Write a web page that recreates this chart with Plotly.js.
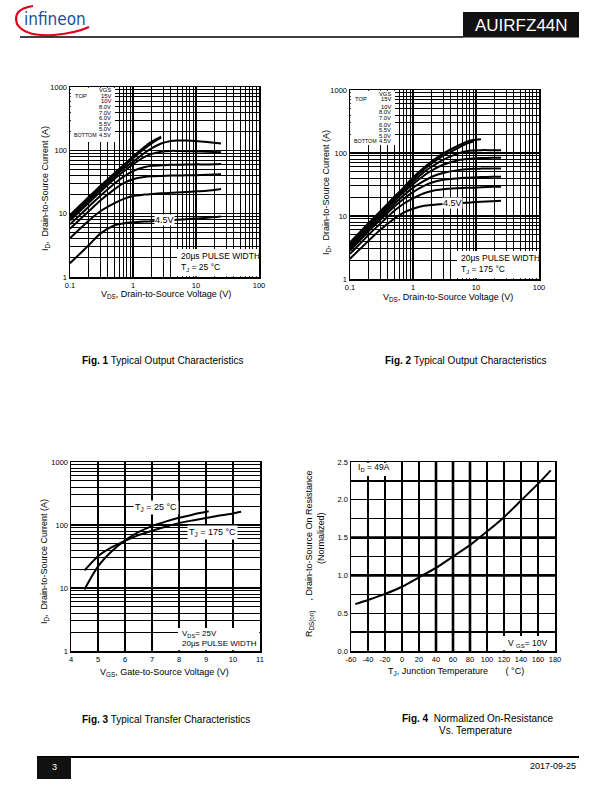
<!DOCTYPE html>
<html><head><meta charset="utf-8">
<script src="https://cdn.plot.ly/plotly-3.0.1.min.js"></script>
<style>html,body{margin:0;padding:0;background:#fff}#chart{width:612px;height:792px}</style>
</head><body><div id="chart"></div>
<script>
// ---------------- DATA ----------------
// Fig. 1  Typical Output Characteristics, TJ = 25 °C
const fig1Vds = [0.1, 0.2, 0.3, 0.5, 0.7, 1, 1.5, 2, 2.8, 4, 5, 7, 10, 15, 25];
const fig1_15V  = [9.5, 18.5, 27, 43, 58, 80, 112, 138, 165];
const fig1_10V  = [9.0, 17.5, 25.5, 41, 55, 75, 105, 130, 158];
const fig1_8V   = [8.4, 16.3, 24, 38, 51, 66, 90, 108, 128, 140, 143, 143, 140, 135, 128];
const fig1_7V   = [7.8, 15, 22, 35, 46, 60, 78, 88, 95, 98, 98, 97, 96, 95, 93];
const fig1_6V   = [6.8, 13, 19, 29.5, 38, 47, 54, 57, 58, 59, 59, 59.5, 60, 60, 61];
const fig1_55V  = [5.8, 11, 16, 24, 30, 35, 38, 39, 39.5, 40, 40, 40.5, 40.5, 41, 42];
const fig1_5V   = [4.1, 7.8, 10.8, 14.5, 17, 19, 20, 20.5, 21, 21.3, 21.5, 22, 22.5, 23, 24.5];
const fig1_45V  = [1.65, 3.2, 4.8, 6.5, 7.0, 7.3, 7.5, 7.6, 7.7, 7.9, 8.0, 8.2, 8.4, 8.6, 9.0];

// Fig. 2  Typical Output Characteristics, TJ = 175 °C
const fig2Vds = [0.1, 0.2, 0.3, 0.5, 0.7, 1, 1.5, 2, 3, 5, 7, 9, 12, 18, 25];
const fig2_15V  = [3.8, 7.8, 11.8, 20, 28, 41, 59, 74, 98, 128, 150, 161, 166];
const fig2_10V  = [3.6, 7.4, 11.2, 19, 26.5, 38, 55, 69, 90, 118, 140, 152];
const fig2_8V   = [3.4, 7.0, 10.6, 18, 25, 35, 50, 61, 78, 97, 107, 110, 111, 111, 111];
const fig2_7V   = [3.2, 6.6, 10, 17, 23.5, 32, 44, 53, 65, 76, 80, 82, 83, 84, 84];
const fig2_6V   = [3.0, 6.2, 9.3, 15.5, 21, 28, 36, 42, 48, 53, 55, 56, 56.5, 57, 57];
const fig2_55V  = [2.8, 5.8, 8.6, 14, 18.5, 24, 30, 34, 37.5, 39.5, 40.5, 41, 41.5, 42, 42];
const fig2_5V   = [2.5, 5.1, 7.5, 12, 15.5, 19, 23, 25, 26.5, 27.5, 28, 28, 28.5, 29, 29];
const fig2_45V  = [2.1, 4.1, 6.0, 9.0, 11.2, 13, 14.5, 15, 15.5, 16, 16.2, 16.5, 16.8, 17.2, 17.5];

const vgsNames = ["15V", "10V", "8.0V", "7.0V", "6.0V", "5.5V", "5.0V", "4.5V"];

// Fig. 3  Typical Transfer Characteristics
const fig3Vgs25  = [4.5, 5, 5.5, 6, 6.5, 7, 7.5, 8, 8.5, 9.1];
const fig3Id25   = [9.5, 22, 38, 57, 77, 96, 113, 130, 146, 165];
const fig3Vgs175 = [4.5, 5, 5.5, 6, 6.5, 7, 7.5, 8, 8.5, 9, 9.5, 10, 10.3];
const fig3Id175  = [19, 32, 44, 56, 69, 81, 94, 107, 118, 129, 141, 152, 162];

// Fig. 4  Normalized On-Resistance vs. Temperature
const fig4Tj = [-55, -40, -20, 0, 20, 40, 60, 80, 100, 120, 140, 160, 175];
const fig4R  = [0.62, 0.675, 0.755, 0.85, 0.975, 1.10, 1.25, 1.40, 1.58, 1.77, 1.99, 2.21, 2.39];

// tick labels
const logTickVals1 = [0.1, 1, 10, 100];
const logTickText1 = ["0.1", "1", "10", "100"];
const idTickVals = [1, 10, 100, 1000];
const idTickText = ["1", "10", "100", "1000"];
const fig3XTicks = [4, 5, 6, 7, 8, 9, 10, 11];
const fig4XTicks = [-60, -40, -20, 0, 20, 40, 60, 80, 100, 120, 140, 160, 180];
const fig4XText  = ["-60", "-40", "-20", "0", "20", "40", "60", "80", "100", "120", "140", "160", "180"];
const fig4YTicks = [0, 0.5, 1.0, 1.5, 2.0, 2.5];
const fig4YText  = ["0.0", "0.5", "1.0", "1.5", "2.0", "2.5"];

// ---------------- LAYOUT HELPERS ----------------
const W = 612, H = 792;
const F = "Arial, 'Liberation Sans', Helvetica, sans-serif";
const px = x => x / W;
const py = y => 1 - y / H;
const pp = (x, y) => px(x).toFixed(5) + "," + py(y).toFixed(5);

const lineStyle = {color: "#000", width: 2, shape: "spline", smoothing: 0.7};
function curve(x, y, xa, ya, name) {
  return {x: x, y: y, xaxis: xa, yaxis: ya, type: "scatter", mode: "lines",
          line: lineStyle, name: name, showlegend: false, hoverinfo: "skip", connectgaps: false};
}

const traces = [];
[fig1_15V, fig1_10V, fig1_8V, fig1_7V, fig1_6V, fig1_55V, fig1_5V, fig1_45V].forEach((d, i) =>
  traces.push(curve(fig1Vds, d, "x", "y", vgsNames[i])));
[fig2_15V, fig2_10V, fig2_8V, fig2_7V, fig2_6V, fig2_55V, fig2_5V, fig2_45V].forEach((d, i) =>
  traces.push(curve(fig2Vds, d, "x2", "y2", vgsNames[i])));
traces.push(curve(fig3Vgs25, fig3Id25, "x3", "y3", "TJ = 25 °C"));
traces.push(curve(fig3Vgs175, fig3Id175, "x3", "y3", "TJ = 175 °C"));
traces.push(curve(fig4Tj, fig4R, "x4", "y4", "RDS(on)"));

const axBase = {
  showline: true, mirror: true, linecolor: "#000", linewidth: 1.5,
  showgrid: true, gridcolor: "#000", gridwidth: 1.2, zeroline: false,
  ticks: "", tickfont: {family: F, size: 7.5, color: "#000"}, fixedrange: true
};
const minorLog = {dtick: "D1", showgrid: true, gridcolor: "#000", gridwidth: 1, ticks: ""};

function logAx(domain, range, anchor, tv, tt) {
  return Object.assign({}, axBase, {type: "log", domain: domain, range: range, anchor: anchor,
    tickmode: "array", tickvals: tv, ticktext: tt, minor: minorLog});
}

const layout = {
  width: W, height: H, margin: {l: 0, r: 0, t: 0, b: 0},
  paper_bgcolor: "#fff", plot_bgcolor: "#fff", showlegend: false,
  font: {family: F, color: "#000"},
  xaxis:  logAx([px(70), px(259)], [-1, 2], "y", logTickVals1, logTickText1),
  yaxis:  logAx([py(277), py(87)], [0, 3], "x", idTickVals, idTickText),
  xaxis2: logAx([px(350), px(539)], [-1, 2], "y2", logTickVals1, logTickText1),
  yaxis2: logAx([py(279), py(90)], [0, 3], "x2", idTickVals, idTickText),
  xaxis3: Object.assign({}, axBase, {domain: [px(71), px(260)], range: [4, 11], anchor: "y3",
          tickmode: "array", tickvals: fig3XTicks}),
  yaxis3: logAx([py(651), py(462)], [0, 3], "x3", idTickVals, idTickText),
  xaxis4: Object.assign({}, axBase, {domain: [px(351), px(555)], range: [-60, 180], anchor: "y4",
          tickmode: "array", tickvals: fig4XTicks, ticktext: fig4XText}),
  yaxis4: Object.assign({}, axBase, {domain: [py(651), py(462)], range: [0, 2.5], anchor: "x4",
          tickmode: "array", tickvals: fig4YTicks, ticktext: fig4YText,
          minor: {dtick: 0.25, showgrid: true, gridcolor: "#000", gridwidth: 1.2, ticks: ""}}),
  shapes: [], annotations: []
};

function rect(x0, y0, x1, y1, color, layer) {
  layout.shapes.push({type: "rect", xref: "paper", yref: "paper",
    x0: px(x0), x1: px(x1), y0: py(y1), y1: py(y0),
    fillcolor: color || "#fff", line: {width: 0}, layer: layer || "above"});
}
function hline(x0, x1, y, w, layer) {
  layout.shapes.push({type: "line", xref: "paper", yref: "paper", x0: px(x0), x1: px(x1),
    y0: py(y), y1: py(y), line: {color: "#000", width: w}, layer: layer || "above"});
}
function vline(x, y0, y1, w, layer) {
  layout.shapes.push({type: "line", xref: "paper", yref: "paper", x0: px(x), x1: px(x),
    y0: py(y0), y1: py(y1), line: {color: "#000", width: w}, layer: layer || "above"});
}
function txt(x, y, text, size, opts) {
  layout.annotations.push(Object.assign({xref: "paper", yref: "paper", x: px(x), y: py(y),
    text: text, showarrow: false, xanchor: "center", yanchor: "middle",
    font: {family: F, size: size, color: "#000"}}, opts || {}));
}

// ---------- header ----------
layout.shapes.push({type: "path", xref: "paper", yref: "paper",
  path: "M " + pp(33, 6) + " Q " + pp(12, 9) + " " + pp(17, 24) + " Q " + pp(25, 37) + " " + pp(54, 35) +
        " Q " + pp(76, 33) + " " + pp(89, 27),
  line: {color: "#e2001a", width: 2.2}, layer: "above"});
txt(55, 19, "infineon", 17, {font: {family: "'Liberation Sans Narrow', 'DejaVu Sans Condensed', Arial", size: 17, color: "#1d4e9e"}});
hline(20, 463, 37, 1.5);
rect(463, 12, 579, 37.5, "#111");
txt(521, 25, "AUIRFZ44N", 17, {font: {family: "'Liberation Sans Narrow', Arial", size: 17, color: "#fff"}});

// ---------- footer ----------
hline(37, 579, 757, 2);
rect(37, 757, 71, 779, "#111");
txt(54, 767, "3", 9, {font: {family: F, size: 9, color: "#fff"}});
txt(578, 766, "2017-09-25", 9, {xanchor: "right"});

// ---------- Fig 1 ----------
rect(70.8, 87.8, 115, 142);
rect(177, 249, 258.2, 276.2);
txt(113, 90, "VGS", 5.8, {xanchor: "right"});
txt(73, 95.6, "TOP", 5.8, {xanchor: "left"});
txt(72, 135, "BOTTOM", 5.3, {xanchor: "left"});
[95.6, 101.2, 106.9, 112.5, 118.1, 123.8, 129.4, 135].forEach((y, i) =>
  txt(113, y, vgsNames[i], 5.8, {xanchor: "right"}));
txt(164, 219.5, "4.5V", 9, {bgcolor: "#fff", borderpad: 0});
txt(179, 256, "20µs PULSE WIDTH", 8.5, {xanchor: "left"});
txt(179, 267, "T<sub>J</sub> = 25 °C", 8.5, {xanchor: "left"});
txt(45, 189, "I<sub>D</sub>,  Drain-to-Source Current (A)", 9, {textangle: -90});
txt(166, 295, "V<sub>DS</sub>, Drain-to-Source Voltage (V)", 9);
txt(80, 360, "<b>Fig. 1</b> Typical Output Characteristics", 10, {xanchor: "left"});

// ---------- Fig 2 ----------
rect(350.8, 90.8, 395, 145);
rect(457, 251, 538.2, 278.2);
const fig2LegY = [99.3, 106.7, 112, 117.7, 125, 130, 135.7, 140.7];
txt(393, 94, "VGS", 5.8, {xanchor: "right"});
txt(353, 99.3, "TOP", 5.8, {xanchor: "left"});
txt(352, 140.7, "BOTTOM", 5.3, {xanchor: "left"});
fig2LegY.forEach((y, i) => txt(393, y, vgsNames[i], 5.8, {xanchor: "right"}));
txt(452, 203, "4.5V", 9, {bgcolor: "#fff", borderpad: 0});
txt(459, 258, "20µs PULSE WIDTH", 8.5, {xanchor: "left"});
txt(459, 269, "T<sub>J</sub> = 175 °C", 8.5, {xanchor: "left"});
txt(326, 193, "I<sub>D</sub>,  Drain-to-Source Current (A)", 9, {textangle: -90});
txt(448, 297, "V<sub>DS</sub>, Drain-to-Source Voltage (V)", 9);
txt(383, 360, "<b>Fig. 2</b> Typical Output Characteristics", 10, {xanchor: "left"});

// ---------- Fig 3 ----------
rect(178, 628, 259.2, 650.2);
txt(156, 507, "T<sub>J</sub> = 25 °C", 9, {bgcolor: "#fff", borderpad: 1});
txt(212, 532, "T<sub>J</sub> = 175 °C", 9, {bgcolor: "#fff", borderpad: 1});
txt(180, 634, "V<sub>DS</sub>= 25V", 8, {xanchor: "left"});
txt(180, 643.5, "20µs PULSE WIDTH", 8, {xanchor: "left"});
txt(44, 562, "I<sub>D</sub>,  Drain-to-Source Current (A)", 9, {textangle: -90});
txt(164, 672, "V<sub>GS</sub>, Gate-to-Source Voltage (V)", 9);
txt(80, 719, "<b>Fig. 3</b> Typical Transfer Characteristics", 10, {xanchor: "left"});

// ---------- Fig 4 ----------
rect(351.8, 462.8, 393, 476);
rect(503, 636, 554.2, 650.2);
[40, 60, 80].forEach(t => vline(351 + (t + 60) / 240 * 204, 462, 651, 2.6, "below"));
[1.0, 1.5].forEach(r => hline(351, 555, 651 - r / 2.5 * 189, 2.6, "below"));
txt(356, 467, "I<sub>D</sub> = 49A", 8.5, {xanchor: "left"});
txt(549, 643, "V <sub>GS</sub>= 10V", 8.5, {xanchor: "right"});
txt(310, 554, "R<sub>DS(on)</sub>    , Drain-to-Source On Resistance", 9, {textangle: -90});
txt(321, 538, "(Normalized)", 9, {textangle: -90});
txt(456, 671, "T<sub>J</sub>, Junction Temperature       ( °C)", 9);
txt(400, 718, "<b>Fig. 4</b>  Normalized On-Resistance", 10, {xanchor: "left"});
txt(437, 730, "Vs. Temperature", 10, {xanchor: "left"});

Plotly.newPlot("chart", traces, layout, {staticPlot: true, displayModeBar: false});
</script>
</body></html>
